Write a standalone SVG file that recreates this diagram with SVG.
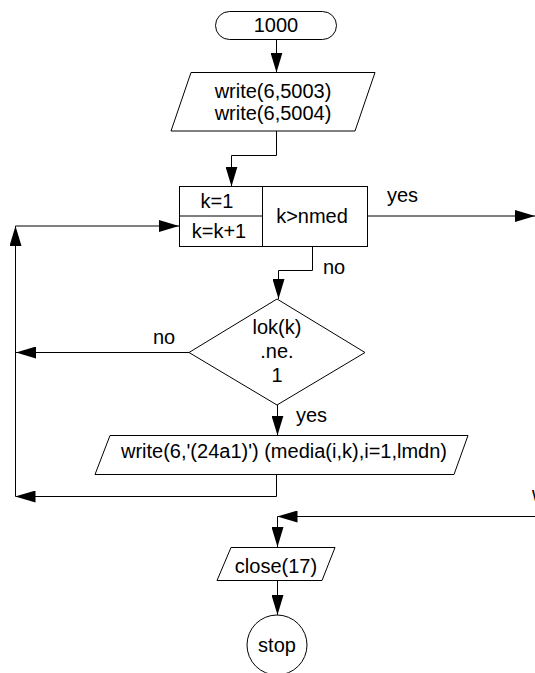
<svg xmlns="http://www.w3.org/2000/svg" width="535" height="673" viewBox="0 0 535 673">
<style>
.s{fill:#fff;stroke:#000;stroke-width:1}
.c{fill:none;stroke:#000;stroke-width:1}
text{font-family:"Liberation Sans",Arial,sans-serif;font-size:20px;fill:#000}
.m{text-anchor:middle}
</style>
<defs>
<marker id="ah" markerUnits="userSpaceOnUse" markerWidth="20" markerHeight="12" refX="20" refY="6" orient="auto" viewBox="0 0 20 12">
<path d="M0,0 L20,6 L0,12 z" fill="#000"/>
</marker>
</defs>
<rect width="535" height="673" fill="#fff"/>
<g id="connectors">
<path class="c" d="M276.5,39 V72.5" marker-end="url(#ah)"/>
<path class="c" d="M276.5,131 V155.5 H231.5 V186.5" marker-end="url(#ah)"/>
<path class="c" d="M367,216 H535" marker-end="url(#ah)"/>
<path class="c" d="M312.5,247 V270.5 H278.5 V299" marker-end="url(#ah)"/>
<path class="c" d="M189,352.5 H16" marker-end="url(#ah)"/>
<path class="c" d="M277.5,405 V435.5" marker-end="url(#ah)"/>
<path class="c" d="M276.5,474.5 V496.5 H15.5" marker-end="url(#ah)"/>
<path class="c" d="M15.5,496.5 V226" marker-end="url(#ah)"/>
<path class="c" d="M15.5,226 H179" marker-end="url(#ah)"/>
<path class="c" d="M535,516.5 H277.5" marker-end="url(#ah)"/>
<path class="c" d="M277.5,516.5 V547" marker-end="url(#ah)"/>
<path class="c" d="M277.5,580 V615" marker-end="url(#ah)"/>
<text x="387" y="202">yes</text>
<text x="323" y="274">no</text>
<text x="153" y="344">no</text>
<text x="296" y="422">yes</text>
<text x="532" y="501">w</text>
</g>
<g id="start">
<rect class="s" x="215.5" y="11.5" width="121" height="28" rx="14" ry="14"/>
<text class="m" x="276" y="32">1000</text>
</g>
<g id="write1">
<polygon class="s" points="191,72.5 375,72.5 355,131 171,131"/>
<text class="m" x="273" y="97.5">write(6,5003)</text>
<text class="m" x="273" y="120">write(6,5004)</text>
</g>
<g id="loop">
<rect class="s" x="179.5" y="186.5" width="188" height="60"/>
<line class="c" x1="262.5" y1="186.5" x2="262.5" y2="246.5"/>
<line class="c" x1="179.5" y1="216" x2="262.5" y2="216"/>
<text class="m" x="217" y="208">k=1</text>
<text class="m" x="219" y="238">k=k+1</text>
<text class="m" x="312" y="223">k&gt;nmed</text>
</g>
<g id="decision">
<polygon class="s" points="277,299 365,352.5 277,405 189,352.5"/>
<text class="m" x="277" y="334">lok(k)</text>
<text class="m" x="277" y="358">.ne.</text>
<text class="m" x="277" y="381.5">1</text>
</g>
<g id="write2">
<polygon class="s" points="110,435.5 468,435.5 454,474.5 95,474.5"/>
<text class="m" x="284" y="458">write(6,'(24a1)') (media(i,k),i=1,lmdn)</text>
</g>
<g id="close">
<polygon class="s" points="231,547.5 335,547.5 322,580.5 217,580.5"/>
<text class="m" x="276" y="573">close(17)</text>
</g>
<g id="stop">
<circle class="s" cx="277" cy="645" r="30"/>
<text class="m" x="277" y="652">stop</text>
</g>
</svg>
